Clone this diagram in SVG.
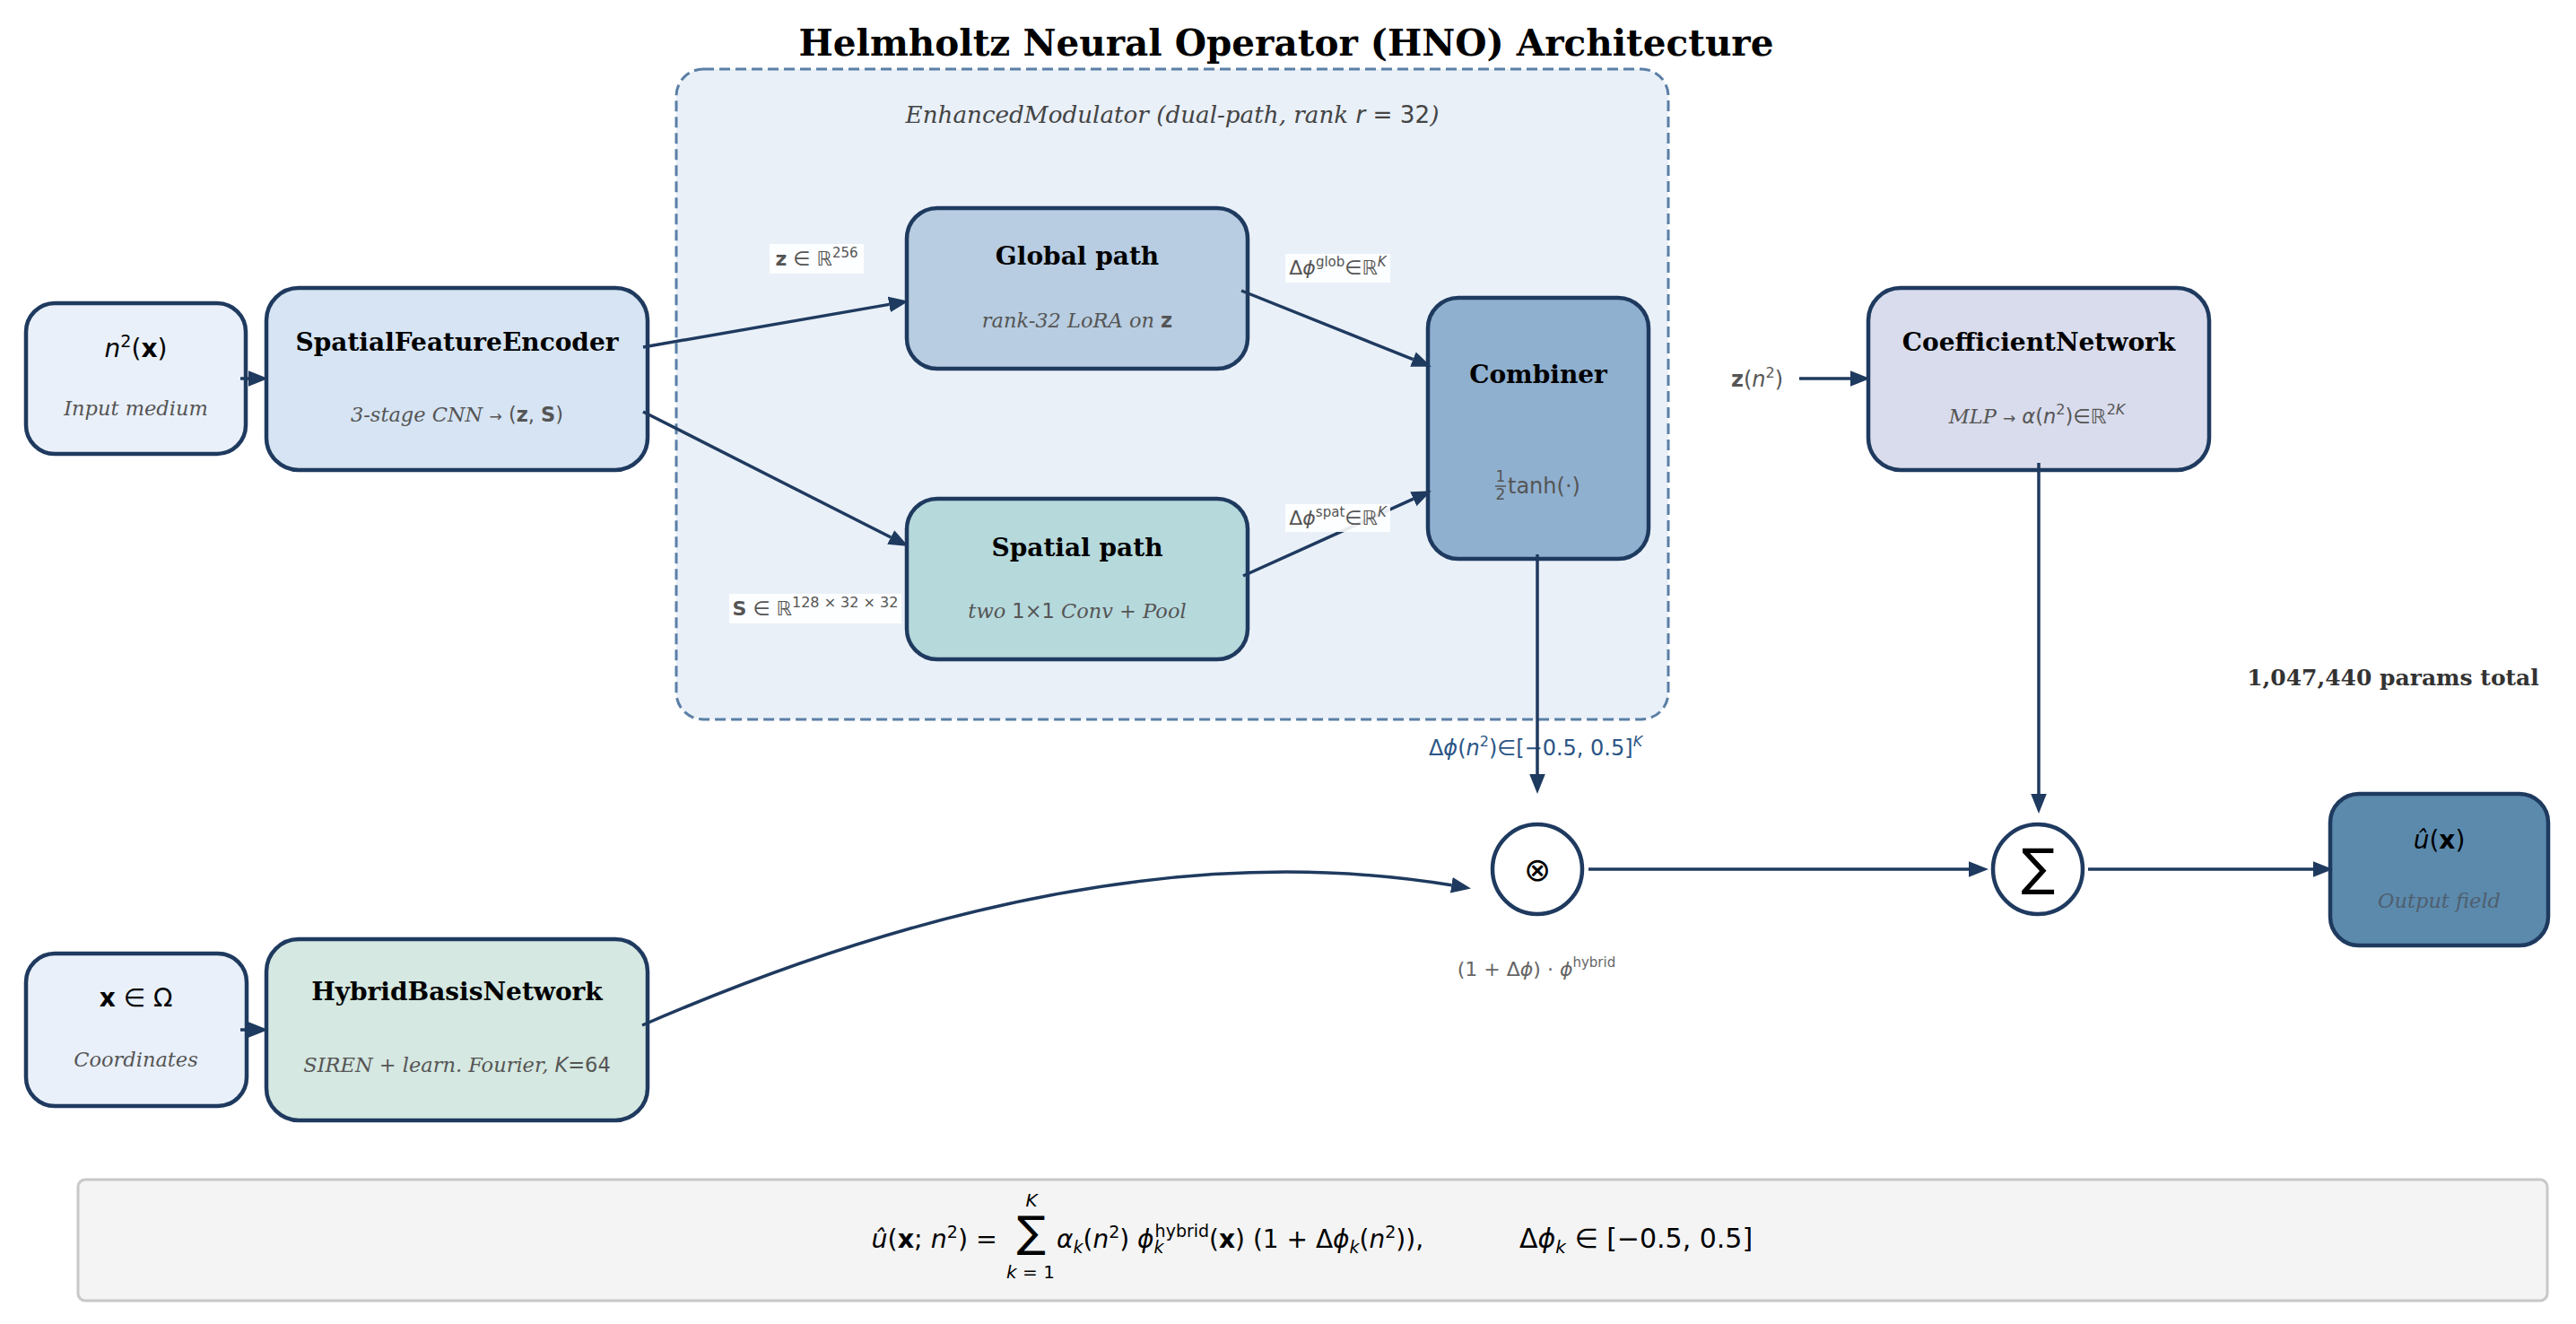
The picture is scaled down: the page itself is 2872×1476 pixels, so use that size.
<svg xmlns="http://www.w3.org/2000/svg" width="2872" height="1476" viewBox="0 0 2872 1476">
<defs>
<marker id="ah" markerUnits="userSpaceOnUse" markerWidth="22" markerHeight="18" viewBox="0 0 20 16" refX="0" refY="8" orient="auto">
<path d="M0,0 L20,8 L0,16 z" fill="#1f3a5f"/>
</marker>
</defs>
<style>
.box{stroke:#1f3a5f;stroke-width:4.5}
.ttl{font-family:"DejaVu Serif","Liberation Serif",serif;font-weight:bold;font-size:28px;text-anchor:middle;fill:#000}
.sub{font-family:"DejaVu Serif","Liberation Serif",serif;font-style:italic;font-size:22.5px;text-anchor:middle;fill:#555}
.m{font-family:"DejaVu Sans","Liberation Sans",sans-serif;font-style:normal}
.mt{font-family:"DejaVu Sans","Liberation Sans",sans-serif;text-anchor:middle}
.lbl{font-family:"DejaVu Sans","Liberation Sans",sans-serif;font-size:22px;fill:#555;text-anchor:middle}
.it{font-style:italic}
.b{font-weight:bold}
.conn{stroke:#1f3a5f;stroke-width:3.5;fill:none;marker-end:url(#ah)}
.lblbg{fill:#ffffff;fill-opacity:0.9}
</style>
<rect width="2872" height="1476" fill="#ffffff"/>

<text x="1434" y="62" font-family="DejaVu Serif, Liberation Serif, serif" font-weight="bold" font-size="40.5" text-anchor="middle" fill="#000">Helmholtz Neural Operator (HNO) Architecture</text>

<g id="enhanced-modulator">
<rect x="754" y="77" width="1106" height="725" rx="30" fill="#e9f0f8" stroke="#5b7fa6" stroke-width="3" stroke-dasharray="12,6"/>
<text class="sub" x="1307" y="137" style="font-size:26.2px;fill:#444">EnhancedModulator (dual-path, rank <tspan class="m it">r</tspan><tspan class="m"> = 32</tspan>)</text>
</g>

<text class="mt" x="1712" y="842" font-size="24" fill="#2b5586">Δ<tspan class="it">ϕ</tspan>(<tspan class="it">n</tspan><tspan font-size="16" dy="-10">2</tspan><tspan dy="10">)∈[−0.5, 0.5]</tspan><tspan class="it" font-size="16" dy="-10">K</tspan></text>

<g id="node-n2">
<rect class="box" x="29" y="338" width="245" height="168" rx="32" fill="#e9f0f9"/>
<text class="mt" x="151.5" y="398" font-size="28" fill="#000"><tspan class="it">n</tspan><tspan font-size="19" dy="-11">2</tspan><tspan dy="11">(</tspan><tspan class="b">x</tspan>)</text>
<text class="sub" x="151.5" y="463">Input medium</text>
</g>

<g id="node-sfe">
<rect class="box" x="297" y="321" width="425" height="203" rx="36" fill="#d6e4f3"/>
<text class="ttl" x="509.5" y="391">SpatialFeatureEncoder</text>
<text class="sub" x="509.5" y="470">3-stage CNN <tspan class="m" font-size="17">→</tspan> <tspan class="m">(<tspan class="b">z</tspan>, <tspan class="b">S</tspan>)</tspan></text>
</g>

<g id="node-global">
<rect class="box" x="1011" y="232" width="380" height="179" rx="34" fill="#b8cde1"/>
<text class="ttl" x="1201" y="295">Global path</text>
<text class="sub" x="1201" y="365">rank-32 LoRA on <tspan class="m b">z</tspan></text>
</g>

<g id="node-spatial">
<rect class="box" x="1011" y="556" width="380" height="179" rx="34" fill="#b6d9dc"/>
<text class="ttl" x="1201" y="620">Spatial path</text>
<text class="sub" x="1201" y="689">two <tspan class="m">1×1</tspan> Conv + Pool</text>
</g>

<g id="node-combiner">
<rect class="box" x="1592" y="332" width="246" height="291" rx="34" fill="#8fb0cf"/>
<text class="ttl" x="1715" y="427">Combiner</text>
<text class="mt" x="1673" y="537" font-size="17" fill="#555">1</text>
<line x1="1667" y1="542" x2="1679" y2="542" stroke="#555" stroke-width="1.5"/>
<text class="mt" x="1673" y="557" font-size="17" fill="#555">2</text>
<text x="1681" y="550" font-family="DejaVu Sans, Liberation Sans, sans-serif" font-size="24" fill="#555">tanh(·)</text>
</g>

<g id="node-coef">
<rect class="box" x="2083" y="321" width="380" height="203" rx="36" fill="#d9dcec"/>
<text class="ttl" x="2273" y="391">CoefficientNetwork</text>
<text class="sub" x="2271" y="472">MLP <tspan class="m" font-size="17">→</tspan> <tspan class="m it">α</tspan><tspan class="m">(</tspan><tspan class="m it">n</tspan><tspan class="m" font-size="16" dy="-10">2</tspan><tspan class="m" dy="10">)∈ℝ</tspan><tspan class="m" font-size="16" dy="-10">2</tspan><tspan class="m it" font-size="16">K</tspan></text>
</g>

<text class="mt" x="1959" y="431" font-size="24" fill="#555"><tspan class="b">z</tspan>(<tspan class="it">n</tspan><tspan font-size="16" dy="-10">2</tspan><tspan dy="10">)</tspan></text>

<text x="2668" y="764" font-family="DejaVu Serif, Liberation Serif, serif" font-weight="bold" font-size="25" text-anchor="middle" fill="#333">1,047,440 params total</text>

<g id="node-x">
<rect class="box" x="29" y="1063" width="246" height="170" rx="32" fill="#e9f0f9"/>
<text class="mt" x="151.5" y="1122" font-size="28" fill="#000"><tspan class="b">x</tspan> ∈ Ω</text>
<text class="sub" x="151.5" y="1189">Coordinates</text>
</g>

<g id="node-hbn">
<rect class="box" x="297" y="1047" width="425" height="202" rx="36" fill="#d5e8e1"/>
<text class="ttl" x="509.5" y="1115">HybridBasisNetwork</text>
<text class="sub" x="509.5" y="1195">SIREN + learn. Fourier, <tspan class="m it">K</tspan><tspan class="m">=64</tspan></text>
</g>

<g id="node-mul">
<circle class="box" cx="1714" cy="969" r="50" fill="#ffffff"/>
<text class="mt" x="1714" y="982" font-size="36" fill="#000">⊗</text>
</g>
<text class="mt" x="1713" y="1088" font-size="22" fill="#666">(1 + Δ<tspan class="it">ϕ</tspan>) · <tspan class="it">ϕ</tspan><tspan font-size="15" dy="-10">hybrid</tspan></text>

<g id="node-sum">
<circle class="box" cx="2272" cy="969" r="50" fill="#ffffff"/>
<text class="mt" x="2272" y="986" font-size="56" fill="#000">∑</text>
</g>

<g id="node-output">
<rect class="box" x="2598" y="885" width="243" height="169" rx="32" fill="#5b8aad"/>
<text class="mt" x="2719.5" y="946" font-size="28" fill="#000"><tspan class="it">û</tspan>(<tspan class="b">x</tspan>)</text>
<text class="sub" x="2719.5" y="1012" style="fill:#4f5f6e">Output field</text>
</g>

<g id="formula">
<rect x="87" y="1315" width="2753" height="135" rx="8" fill="#f4f4f4" stroke="#c8c8c8" stroke-width="3"/>
<text x="1112" y="1391" font-family="DejaVu Sans, Liberation Sans, sans-serif" font-size="28.5" text-anchor="end" fill="#000"><tspan class="it">û</tspan>(<tspan class="b">x</tspan>; <tspan class="it">n</tspan><tspan font-size="19" dy="-11">2</tspan><tspan dy="11">) =</tspan></text>
<text class="mt" x="1150" y="1390" font-size="48" fill="#000">∑</text>
<text class="mt it" x="1150" y="1345" font-size="20" fill="#000">K</text>
<text class="mt" x="1149" y="1425" font-size="20" fill="#000"><tspan class="it">k</tspan> = 1</text>
<text x="1178" y="1391" font-family="DejaVu Sans, Liberation Sans, sans-serif" font-size="28" fill="#000"><tspan class="it">α</tspan><tspan class="it" font-size="19" dy="6">k</tspan><tspan dy="-6">(</tspan><tspan class="it">n</tspan><tspan font-size="19" dy="-11">2</tspan><tspan dy="11">) </tspan><tspan class="it">ϕ</tspan><tspan class="it" font-size="19" dy="6">k</tspan><tspan font-size="19" dx="-10" dy="-18">hybrid</tspan><tspan dy="12">(</tspan><tspan class="b">x</tspan>) (1 + Δ<tspan class="it">ϕ</tspan><tspan class="it" font-size="19" dy="6">k</tspan><tspan dy="-6">(</tspan><tspan class="it">n</tspan><tspan font-size="19" dy="-11">2</tspan><tspan dy="11">)),</tspan></text>
<text x="1694" y="1391" font-family="DejaVu Sans, Liberation Sans, sans-serif" font-size="30" fill="#000">Δ<tspan class="it">ϕ</tspan><tspan class="it" font-size="20" dy="6">k</tspan><tspan dy="-6"> ∈ [−0.5, 0.5]</tspan></text>
</g>

<g id="connectors">
<line class="conn" x1="268" y1="422" x2="277" y2="422"/>
<line class="conn" x1="268" y1="1148" x2="277" y2="1148"/>
<line class="conn" x1="717" y1="387" x2="991.3" y2="339.4"/>
<line class="conn" x1="717" y1="459" x2="993.2" y2="599"/>
<line class="conn" x1="1384" y1="324" x2="1575.4" y2="400.6"/>
<line class="conn" x1="1386" y1="642" x2="1575.8" y2="556.2"/>
<line class="conn" x1="1714" y1="618" x2="1714" y2="863"/>
<path class="conn" d="M716,1143 Q1225,922 1618.3,986.8"/>
<line class="conn" x1="1771" y1="969" x2="2195" y2="969"/>
<line class="conn" x1="2006" y1="422" x2="2063" y2="422"/>
<line class="conn" x1="2273" y1="516" x2="2273" y2="885"/>
<line class="conn" x1="2328" y1="969" x2="2579" y2="969"/>
</g>

<g id="label-z">
<rect class="lblbg" x="858" y="272" width="105" height="33"/>
<text class="lbl" x="910.5" y="296"><tspan class="b">z</tspan> ∈ ℝ<tspan font-size="15" dy="-9">256</tspan></text>
</g>
<g id="label-S">
<rect class="lblbg" x="813" y="662" width="192" height="33"/>
<text class="lbl" x="909" y="686"><tspan class="b">S</tspan> ∈ ℝ<tspan font-size="16" dy="-9">128 × 32 × 32</tspan></text>
</g>
<g id="label-glob">
<rect class="lblbg" x="1433" y="283" width="117" height="32"/>
<text class="lbl" x="1491.5" y="306">Δ<tspan class="it">ϕ</tspan><tspan font-size="15" dy="-9">glob</tspan><tspan dy="9">∈ℝ</tspan><tspan class="it" font-size="15" dy="-9">K</tspan></text>
</g>
<g id="label-spat">
<rect class="lblbg" x="1433" y="562" width="117" height="31"/>
<text class="lbl" x="1491.5" y="585">Δ<tspan class="it">ϕ</tspan><tspan font-size="15" dy="-9">spat</tspan><tspan dy="9">∈ℝ</tspan><tspan class="it" font-size="15" dy="-9">K</tspan></text>
</g>
</svg>
